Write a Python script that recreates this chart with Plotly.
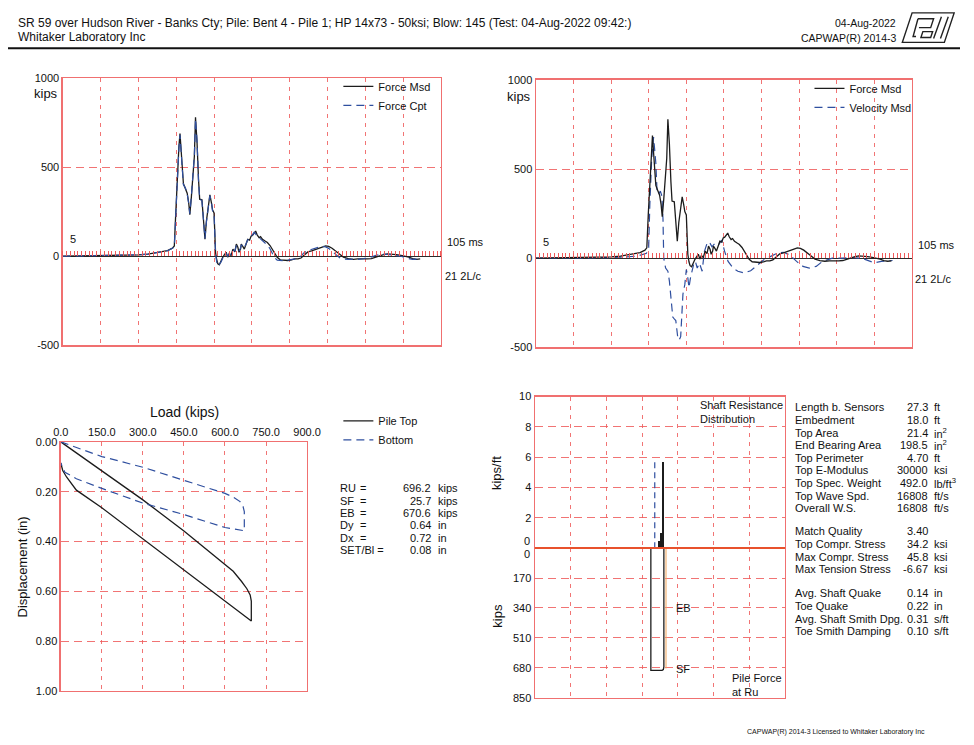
import plotly.graph_objects as go

W, H = 974, 745

# ------------------------------------------------------------------ data
# Top plots: time (ms) and force (kips)
T_MS = [5.0, 10, 15, 20, 25, 27.5, 29.3, 31.0, 32.7, 34.0,
        34.5, 34.9, 35.3, 35.7, 36.0, 36.4, 36.9, 37.4, 37.9, 38.3,
        38.6, 39.0, 39.4, 39.8, 40.1, 40.5, 40.9, 41.2, 41.8, 42.2,
        42.6, 43.0, 43.5, 43.9, 44.3, 44.6, 45.0, 45.2, 45.4, 45.7,
        46.0, 46.4, 46.9, 47.3, 47.8, 48.2, 48.6, 49.0, 49.5, 50.0,
        50.5, 50.9, 51.3, 51.6, 52.0, 52.2, 52.6, 53.0, 53.5, 53.9,
        54.4, 54.8, 55.2, 55.6, 56.0, 56.4, 56.9, 57.3, 57.8, 58.5,
        59.1, 59.8, 60.4, 61.0, 61.7, 62.5, 63.5, 64.5, 65.5, 66.3,
        67.2, 68.0, 68.8, 69.8, 70.8, 71.8, 72.8, 73.6, 74.5, 75.3,
        76.2, 77.2, 78.2, 79.2, 80.5, 81.8, 83.0, 84.4, 85.5, 86.6,
        87.6, 88.6, 89.6, 90.8, 92.0, 93.2, 94.4, 95.5, 96.5, 97.5,
        98.5, 99.5]
F_MSD = [0, 1, 2, 4, 8, 12, 18, 24, 31, 45,
         58, 250, 445, 610, 688, 560, 408, 380, 353, 300,
         233, 330, 480, 560, 779, 640, 430, 320, 316, 200,
         95, 200, 300, 344, 300, 261, 243, 120, 22, -20,
         -42, -48, -20, -6, 10, 22, -5, 15, 4, 40,
         25, 68, 50, 22, 40, 68, 55, 40, 70, 95,
         90, 113, 118, 128, 141, 120, 104, 110, 95, 85,
         77, 60, 40, 20, -6, -20, -22, -24, -20, -15,
         -15, -10, 5, 24, 30, 39, 48, 51, 58, 55,
         45, 30, 12, -5, -13, -17, -15, -17, -15, -13,
         -5, 2, 8, 13, 12, 9, 5, 2, -5, -13,
         -17, -15]
F_CPT = [0, 1, 2, 4, 8, 12, 18, 24, 31, 44,
         56, 240, 440, 600, 680, 570, 400, 385, 350, 295,
         238, 335, 470, 565, 770, 650, 420, 325, 310, 205,
         100, 195, 295, 340, 305, 255, 240, 110, 15, -30,
         -55, -45, -30, -10, 5, 15, 0, 12, 10, 35,
         30, 60, 45, 30, 45, 62, 58, 45, 72, 92,
         95, 110, 128, 135, 125, 108, 105, 98, 86, 75,
         62, 42, 18, -8, -22, -24, -25, -22, -18, -15,
         -12, 2, 20, 32, 40, 46, 52, 56, 52, 44,
         28, 10, -8, -15, -18, -16, -18, -14, -10, -4,
         4, 10, 12, 10, 6, 3, 0, -8, -15, -18,
         -16, -15]
V_T = [5.0, 12, 18, 24, 28.4, 32, 34.4, 35.0, 35.3, 35.8,
       36.3, 36.9, 37.2, 37.6, 38.1, 38.5, 38.8, 39.0, 39.5, 40.1,
       40.5, 40.9, 41.4, 41.8, 42.2, 42.7, 43.1, 43.5, 43.8, 44.1,
       44.6, 45.0, 45.3, 45.7, 46.1, 46.6, 47.0, 47.4, 47.9, 48.5,
       49.2, 49.8, 50.5, 51.1, 51.8, 52.6, 53.5, 54.4, 55.2, 56.1,
       57.4, 58.7, 60.4, 62.1, 63.9, 65.6, 67.3, 69.1, 70.8, 72.5,
       74.3, 76.0, 77.7, 79.5, 81.2, 83.8, 86.4, 89.0, 91.6, 93.3,
       95.0, 96.8, 98.5, 99.8]
V_MSD = [0, 0, 1, 3, 6, 12, 28, 60, 300, 560,
         679, 532, 385, 358, 376, 349, 220, 0, -55, -73,
         -128, -202, -330, -340, -349, -440, -459, -440, -312, -202,
         -147, -64, -92, -165, -110, -55, -30, -18, -55, -28,
         -73, 37, 83, 92, 64, 83, 73, 101, 37, -18,
         -55, -73, -83, -70, -37, -9, 9, 28, 33, 18,
         -18, -46, -55, -46, -18, 0, 0, 4, 0, -15,
         -26, -18, -15, -13]
TRACE_NOTES = ["5", "105 ms", "21 2L/c"]

# Bottom-left: simulated static load test
PT_LOAD = [0, 150, 300, 450, 600, 630, 660, 680, 692, 696.2, 696.2,
           600, 450, 300, 150, 57, 21, 7, 0]
PT_DISP = [0, 0.115, 0.233, 0.358, 0.49, 0.52, 0.56, 0.59, 0.615, 0.64, 0.72,
           0.64, 0.513, 0.39, 0.265, 0.194, 0.141, 0.115, 0.085]
BT_LOAD = [0, 150, 300, 450, 600, 630, 655, 666, 670.6, 670.6,
           600, 450, 300, 150, 57, 15, 0]
BT_DISP = [0, 0.059, 0.102, 0.155, 0.207, 0.222, 0.24, 0.26, 0.28, 0.357,
           0.344, 0.292, 0.246, 0.187, 0.148, 0.122, 0.085]
BL_LABELS = ["RU", "SF", "EB", "Dy", "Dx", "SET/Bl ="]
BL_VALUES = ["696.2", "25.7", "670.6", "0.64", "0.72", "0.08"]
BL_UNITS = ["kips", "kips", "kips", "in", "in", "in"]

# Bottom-right: shaft resistance distribution / pile force at Ru
SRD_X = [34.75, 35.3, 35.85]
SRD_KPF = [0.5, 1.0, 5.7]
AVG_X = [33.55, 33.55]
AVG_KPF = [0, 5.7]
PF_X = [32.46, 32.46, 35.6, 35.95, 36.1, 36.1]
PF_KIPS = [0, 695, 695, 690, 675, 0]
SF_X = [36.7, 36.7]
SF_KIPS = [0, 684]

P1_LABELS = ["Length b. Sensors", "Embedment", "Top Area", "End Bearing Area",
             "Top Perimeter", "Top E-Modulus", "Top Spec. Weight",
             "Top Wave Spd.", "Overall W.S."]
P1_VALUES = ["27.3", "18.0", "21.4", "198.5", "4.70", "30000", "492.0",
             "16808", "16808"]
P1_UNITS = ["ft", "ft", "in<sup>2</sup>", "in<sup>2</sup>", "ft", "ksi",
            "lb/ft<sup>3</sup>", "ft/s", "ft/s"]
P2_LABELS = ["Match Quality", "Top Compr. Stress", "Max Compr. Stress",
             "Max Tension Stress"]
P2_VALUES = ["3.40", "34.2", "45.8", "-6.67"]
P2_UNITS = ["", "ksi", "ksi", "ksi"]
P3_LABELS = ["Avg. Shaft Quake", "Toe Quake", "Avg. Shaft Smith Dpg.",
             "Toe Smith Damping"]
P3_VALUES = ["0.14", "0.22", "0.31", "0.10"]
P3_UNITS = ["in", "in", "s/ft", "s/ft"]

HEADER_1 = ("SR 59 over Hudson River - Banks Cty; Pile: Bent 4 - Pile 1; "
            "HP 14x73 - 50ksi; Blow: 145 (Test: 04-Aug-2022 09:42:)")
HEADER_2 = "Whitaker Laboratory Inc"
HEADER_DATE = "04-Aug-2022"
HEADER_PROG = "CAPWAP(R) 2014-3"
FOOTER = "CAPWAP(R) 2014-3 Licensed to Whitaker Laboratory Inc"

# ------------------------------------------------------------------ layout helpers
FONT = "Liberation Sans, Arial, Helvetica, sans-serif"
BLACK = "#1c1c1c"
BLUE = "#2f4f9f"
FRAME = "#f07070"
GRID = "rgba(238,92,92,0.85)"


def xdom(a, b):
    return [a / W, b / W]


def ydom(top, bottom):
    return [1 - bottom / H, 1 - top / H]


D_TL = (xdom(56, 443), ydom(73, 345))
D_TR = (xdom(540, 925), ydom(75, 347))
D_BL = (xdom(54, 306), ydom(443, 696))
D_BRU = (xdom(539, 795), ydom(397, 551))
D_BRL = (xdom(539, 795), ydom(551, 703))

base = dict(showline=True, linecolor=FRAME, linewidth=1.3, mirror=True,
            gridcolor=GRID, gridwidth=1, zeroline=False, ticks="",
            fixedrange=True, tickfont=dict(size=11, color="#111"))

fig = go.Figure()

# ---- top-left
fig.add_trace(go.Scatter(x=T_MS, y=F_MSD, name="Force Msd", mode="lines",
                         line=dict(color=BLACK, width=1.3),
                         xaxis="x", yaxis="y", legend="legend", legendrank=1))
fig.add_trace(go.Scatter(x=T_MS, y=F_CPT, name="Force Cpt", mode="lines",
                         line=dict(color=BLUE, width=1.2, dash="8px,5px"),
                         xaxis="x", yaxis="y", legend="legend", legendrank=2))
# ---- top-right
fig.add_trace(go.Scatter(x=V_T, y=V_MSD, name="Velocity Msd", mode="lines",
                         line=dict(color=BLUE, width=1.2, dash="8px,5px"),
                         xaxis="x2", yaxis="y2", legend="legend2", legendrank=2))
fig.add_trace(go.Scatter(x=T_MS, y=F_MSD, name="Force Msd", mode="lines",
                         line=dict(color=BLACK, width=1.3),
                         xaxis="x2", yaxis="y2", legend="legend2", legendrank=1))
# ---- bottom-left
fig.add_trace(go.Scatter(x=PT_LOAD, y=PT_DISP, name="Pile Top", mode="lines",
                         line=dict(color=BLACK, width=1.3),
                         xaxis="x3", yaxis="y3", legend="legend3", legendrank=1))
fig.add_trace(go.Scatter(x=BT_LOAD, y=BT_DISP, name="Bottom", mode="lines",
                         line=dict(color=BLUE, width=1.2, dash="8px,5px"),
                         xaxis="x3", yaxis="y3", legend="legend3", legendrank=2))
# ---- bottom-right
fig.add_trace(go.Bar(x=SRD_X, y=SRD_KPF, width=0.5, marker=dict(color=BLACK, line=dict(width=0)),
                     xaxis="x4", yaxis="y4", showlegend=False))
fig.add_trace(go.Scatter(x=AVG_X, y=AVG_KPF, mode="lines", showlegend=False,
                         line=dict(color=BLUE, width=1.2, dash="6px,4px"),
                         xaxis="x4", yaxis="y4"))
fig.add_trace(go.Scatter(x=SF_X, y=SF_KIPS, mode="lines", showlegend=False,
                         line=dict(color="#f2a65a", width=1),
                         xaxis="x5", yaxis="y5"))
fig.add_trace(go.Scatter(x=PF_X, y=PF_KIPS, mode="lines", showlegend=False,
                         line=dict(color=BLACK, width=1.3),
                         xaxis="x5", yaxis="y5"))
# ---- helpers for the zero-line tick rows (red hash marks)
fig.add_trace(go.Scatter(x=[5, 105], y=[None, None], mode="lines", showlegend=False,
                         hoverinfo="skip", xaxis="x6", yaxis="y"))
fig.add_trace(go.Scatter(x=[5, 105], y=[None, None], mode="lines", showlegend=False,
                         hoverinfo="skip", xaxis="x7", yaxis="y2"))


def zero_pos(yd):
    return yd[0] + (yd[1] - yd[0]) * 500.0 / 1500.0


top_x = dict(base, range=[5, 105], tick0=5, dtick=10, showticklabels=False,
             griddash="4px,5px")
top_y = dict(base, range=[-500, 1000], tickvals=[-500, 0, 500, 1000],
             ticktext=["-500", "0", "500", "1000"],
             griddash="8px,5px", zeroline=True, zerolinecolor="#2a2a2a",
             zerolinewidth=1)
hash_ax = dict(range=[5, 105], tick0=5, dtick=1, ticks="outside", ticklen=5,
               tickcolor="#f05a5a", tickwidth=1, showticklabels=False,
               showgrid=False, showline=False, zeroline=False, side="top",
               anchor="free", fixedrange=True)

fig.update_layout(
    xaxis=dict(top_x, domain=D_TL[0], anchor="y"),
    yaxis=dict(top_y, domain=D_TL[1], anchor="x"),
    xaxis2=dict(top_x, domain=D_TR[0], anchor="y2"),
    yaxis2=dict(top_y, domain=D_TR[1], anchor="x2"),
    xaxis3=dict(base, domain=D_BL[0], anchor="y3", side="top", range=[0, 900],
                tickvals=[0, 150, 300, 450, 600, 750, 900], tickformat=".1f",
                griddash="4px,5px"),
    yaxis3=dict(base, domain=D_BL[1], anchor="x3", range=[1, 0],
                tickvals=[0, 0.2, 0.4, 0.6, 0.8, 1.0], tickformat=".2f",
                griddash="8px,5px"),
    xaxis4=dict(base, domain=D_BRU[0], anchor="y4", range=[0, 70], dtick=10,
                showticklabels=False, griddash="4px,5px"),
    yaxis4=dict(base, domain=D_BRU[1], anchor="x4", range=[0, 10],
                tickvals=[2, 4, 6, 8, 10], griddash="8px,5px"),
    xaxis5=dict(base, domain=D_BRL[0], anchor="y5", range=[0, 70], dtick=10,
                showticklabels=False, griddash="4px,5px"),
    yaxis5=dict(base, domain=D_BRL[1], anchor="x5", range=[850, 0],
                tickvals=[170, 340, 510, 680, 850], griddash="8px,5px"),
    xaxis6=dict(hash_ax, overlaying="x", position=zero_pos(D_TL[1])),
    xaxis7=dict(hash_ax, overlaying="x2", position=zero_pos(D_TR[1])),
)

leg = dict(font=dict(size=11, color="#111", family=FONT), bgcolor="rgba(0,0,0,0)",
           borderwidth=0, xanchor="left", yanchor="top", tracegroupgap=0,
           itemclick=False, itemdoubleclick=False)
fig.update_layout(
    legend=dict(leg, x=(380 - 42) / W, y=1 - 67 / H),
    legend2=dict(leg, x=(862 - 42) / W, y=1 - 69 / H),
    legend3=dict(leg, x=(380 - 42) / W, y=1 - 407 / H),
)

# ------------------------------------------------------------------ annotations
anns = []


def text(t, x, y, xanchor="left", size=11, yanchor="middle", angle=0, color="#111"):
    anns.append(dict(text=t, x=x / W, y=1 - y / H, xref="paper", yref="paper",
                     xanchor=xanchor, yanchor=yanchor, showarrow=False, align="left",
                     textangle=angle, font=dict(size=size, color=color, family=FONT)))


# header
text(HEADER_1, 8, 17, size=12)
text(HEADER_2, 8, 32, size=12)
text(HEADER_DATE, 911, 17, xanchor="right", size=10.5)
text(HEADER_PROG, 911, 33, xanchor="right", size=10.5)
text(FOOTER, 940, 738, xanchor="right", size=7)

# top plots
text("kips", 53, 89, xanchor="right", size=13)
text("kips", 537, 92, xanchor="right", size=13)
text(TRACE_NOTES[0], 61, 237, size=11)
text(TRACE_NOTES[0], 545, 240, size=11)
text(TRACE_NOTES[1], 447, 240, size=11)
text(TRACE_NOTES[1], 929, 243, size=11)
text(TRACE_NOTES[2], 445, 274, size=11)
text(TRACE_NOTES[2], 926, 277, size=11)

# bottom-left
text("Load (kips)", 181, 413, xanchor="center", size=14)
text("Displacement (in)", 15, 570, xanchor="center", size=13, angle=-90)
for i, (lab, val, unit) in enumerate(zip(BL_LABELS, BL_VALUES, BL_UNITS)):
    yy = 490 + i * 12.6
    text(lab, 338, yy)
    if not lab.endswith("="):
        text("=", 358, yy)
    text(val, 435, yy, xanchor="right")
    text(unit, 438, yy)

# bottom-right plot labels
text("kips/ft", 500, 475, xanchor="center", size=13, angle=-90)
text("kips", 500, 620, xanchor="center", size=13, angle=-90)
text("0", 536, 544, xanchor="right")
text("0", 536, 557, xanchor="right")
text("Shaft Resistance<br>Distribution", 706, 413, size=11)
text("Pile Force<br>at Ru", 739, 690, size=11)
text("EB", 681, 612)
text("SF", 681, 674)

# parameter table
for labels, values, units, y0 in ((P1_LABELS, P1_VALUES, P1_UNITS, 408),
                                  (P2_LABELS, P2_VALUES, P2_UNITS, 534),
                                  (P3_LABELS, P3_VALUES, P3_UNITS, 597)):
    for i, (lab, val, unit) in enumerate(zip(labels, values, units)):
        yy = y0 + i * 12.8
        text(lab, 803, yy)
        text(val, 943, yy, xanchor="right")
        if unit:
            text(unit, 945, yy)

# ------------------------------------------------------------------ shapes
def P(x, y):
    return f"{x / W:.5f},{1 - y / H:.5f}"


shapes = [
    # header rule
    dict(type="line", xref="paper", yref="paper", x0=0, x1=1, y0=1 - 43 / H, y1=1 - 43 / H,
         line=dict(color="#111", width=2)),
    # boundary between shaft resistance and pile force panels
    dict(type="line", xref="paper", yref="paper", x0=539 / W, x1=795 / W,
         y0=1 - 551 / H, y1=1 - 551 / H, line=dict(color="#e8512c", width=2)),
    # logo
    dict(type="path", xref="paper", yref="paper",
         path="M " + P(925, 7) + " L " + P(968, 7) + " L " + P(958, 37) + " L " + P(915, 37) + " Z",
         line=dict(color="#222", width=1.4)),
    dict(type="path", xref="paper", yref="paper",
         path="M " + P(931, 13) + " L " + P(947, 13) + " L " + P(944, 22) + " L " + P(932, 22)
              + " M " + P(929, 31) + " L " + P(926, 31) + " L " + P(931, 13),
         line=dict(color="#222", width=1.4)),
    dict(type="path", xref="paper", yref="paper",
         path="M " + P(936, 26) + " L " + P(946, 26) + " L " + P(944, 32) + " L " + P(934, 32) + " Z",
         line=dict(color="#222", width=1.4)),
    dict(type="path", xref="paper", yref="paper",
         path="M " + P(955, 11) + " L " + P(947, 33) + " M " + P(962, 11) + " L " + P(954, 33),
         line=dict(color="#222", width=1.4)),
]

fig.update_layout(
    width=W, height=H, margin=dict(l=0, r=0, t=0, b=0, pad=0),
    paper_bgcolor="white", plot_bgcolor="white",
    font=dict(family=FONT, size=11, color="#111"),
    annotations=anns, shapes=shapes, bargap=0, hovermode=False,
)

fig.write_html("out.html", config=dict(displayModeBar=False, staticPlot=True))
